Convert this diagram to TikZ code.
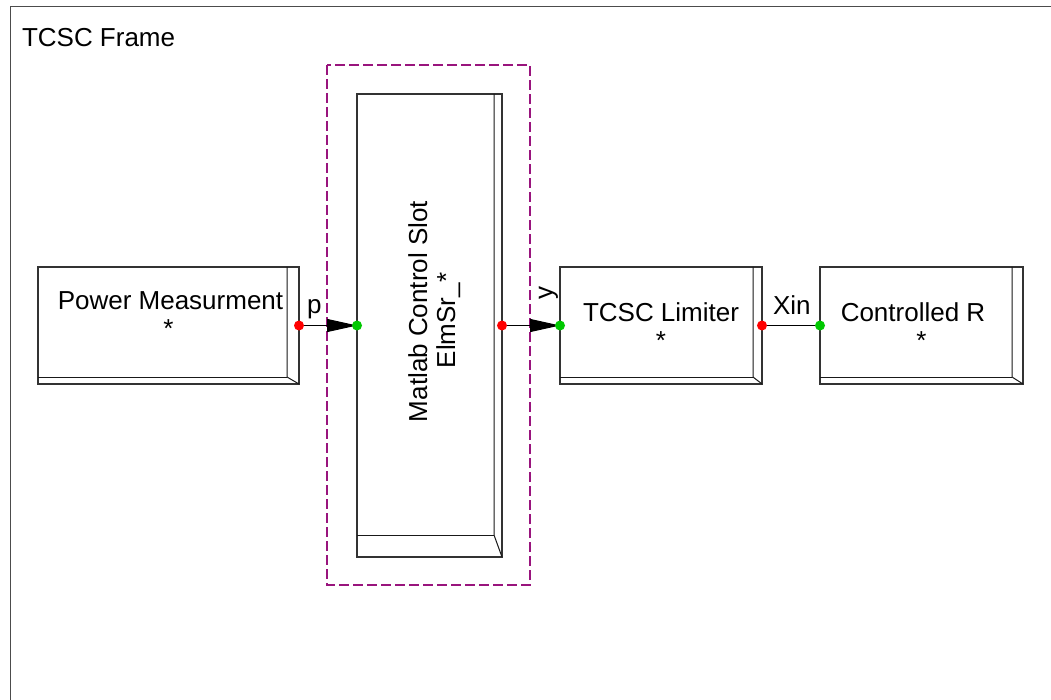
\documentclass[tikz,border=0pt]{standalone}
\usepackage{fontspec}
\setmainfont{Liberation Sans}
\usetikzlibrary{arrows.meta}

\definecolor{slotpurple}{RGB}{153,20,125}
\definecolor{portred}{RGB}{255,0,0}
\definecolor{portgreen}{RGB}{0,200,0}

% inner bevel of a 3D-looking block: #1 node, #2 right inset, #3 bottom inset
\newcommand\bevelblock[3]{%
  \draw[bevel] ([xshift=-#2]#1.north east) -- ([xshift=-#2,yshift=#3]#1.south east) -- (#1.south east);
  \draw[bevel] ([yshift=#3]#1.south west) -- ([xshift=-#2,yshift=#3]#1.south east);
}

\begin{document}
\begin{tikzpicture}[x=1pt,y=-1pt,
  every node/.style={inner sep=0pt,outer sep=0pt},
  txt/.style={font=\fontsize{26}{28}\selectfont,anchor=base},
  block/.style={rectangle,draw=black!80,line width=1.2pt,fill=white},
  bevel/.style={draw=black!90,line width=1pt},
  frame/.style={draw=black!70,line width=1pt},
  wire/.style={draw=black,line width=1pt},
  flow/.style={wire,-{Triangle[length=30pt,width=13pt]}},
  outport/.style={circle,fill=portred,minimum size=10pt},
  inport/.style={circle,fill=portgreen,minimum size=10pt},
  slot/.style={draw=slotpurple,line width=2pt,dash pattern=on 10pt off 4pt},
]
\useasboundingbox (0,0) rectangle (1051,700);

% surrounding frame
\draw[frame] (10,702) -- (10,7) -- (1053,7);
\node[txt,anchor=base west] (frametitle) at (22,47) {TCSC Frame};

% dashed slot outline
\draw[slot] (327,65) rectangle (530,585);

% blocks
\node[block,minimum width=261pt,minimum height=117pt] (pm)  at (168.5,325.5) {};
\node[block,minimum width=145pt,minimum height=463pt] (ml)  at (429.5,325.5) {};
\node[block,minimum width=202pt,minimum height=117pt] (lim) at (661,325.5) {};
\node[block,minimum width=203pt,minimum height=117pt] (cr)  at (921.5,325.5) {};
\bevelblock{pm}{12pt}{7pt}
\bevelblock{ml}{8pt}{22pt}
\bevelblock{lim}{9pt}{7pt}
\bevelblock{cr}{11pt}{7pt}

% block labels
\node[txt] (pmname) at (170.5,309.5) {Power Measurment};
\node[txt] (pmstar) at (168.5,337.5) {*};
\node[txt,rotate=90] (mlname) at (427,311.5) {Matlab Control Slot};
\node[txt,rotate=90] (mlclass) at (455,320.5) {ElmSr\_*};
\node[txt] (limname) at (661,321.5) {TCSC Limiter};
\node[txt] (limstar) at (661,349.5) {*};
\node[txt] (crname) at (913,321.5) {Controlled R};
\node[txt] (crstar) at (921.5,349.5) {*};

% signal connections
\draw[flow] (pm.east) -- (ml.west);
\draw[flow] (ml.east) -- (lim.west);
\draw[wire] (lim.east) -- (cr.west);

% ports
\node[outport] (pmout)  at (pm.east) {};
\node[inport]  (mlin)   at (ml.west) {};
\node[outport] (mlout)  at (ml.east) {};
\node[inport]  (limin)  at (lim.west) {};
\node[outport] (limout) at (lim.east) {};
\node[inport]  (crin)   at (cr.west) {};

% signal names
\node[txt,anchor=base west] (sigp) at (307,313) {p};
\node[txt,anchor=base west,rotate=90] (sigy) at (552.5,299) {y};
\node[txt,anchor=base west] (sigxin) at (773,315) {Xin};
\end{tikzpicture}
\end{document}
